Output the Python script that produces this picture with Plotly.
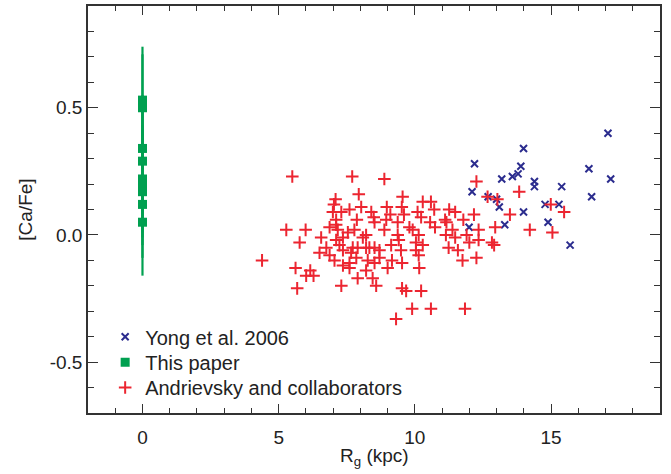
import plotly.graph_objects as go

# ---------------- data ----------------
# This paper (x = 0)
this_rg = [0, 0, 0, 0, 0, 0, 0, 0, 0]
this_cafe = [0.53, 0.50, 0.34, 0.29, 0.22, 0.20, 0.17, 0.12, 0.05]
this_err = [0.21, 0.21, 0.21, 0.21, 0.21, 0.21, 0.21, 0.21, 0.21]

# Yong et al. 2006
yong_rg = [17.09, 13.99, 12.19, 13.89, 16.39, 13.58, 13.79, 13.19, 14.39, 17.19,
           14.39, 15.39, 12.10, 12.69, 13.00, 16.49, 13.10, 14.78, 15.29, 13.99,
           14.89, 13.30, 11.99, 15.70]
yong_cafe = [0.40, 0.34, 0.28, 0.27, 0.26, 0.23, 0.24, 0.22, 0.21, 0.22,
             0.19, 0.19, 0.17, 0.15, 0.14, 0.15, 0.11, 0.12, 0.12, 0.09,
             0.05, 0.04, 0.03, -0.04]

# Andrievsky and collaborators
andr_rg = [5.50, 7.70, 7.94, 7.09, 7.03, 8.03, 7.60, 6.99, 7.30, 8.40,
           7.11, 7.87, 7.11, 6.87, 5.28, 5.99, 7.17, 7.78, 7.54, 8.21,
           6.56, 7.36, 8.09, 7.11, 5.77, 6.75, 7.23, 7.72, 7.90, 6.50,
           7.36, 7.66, 8.21, 8.52, 6.87, 7.85, 7.05, 8.27, 4.39, 7.60,
           8.52, 7.36, 5.62, 8.21, 6.16, 7.60, 6.01, 6.28, 7.90, 8.45,
           7.30, 5.68, 8.58,
           8.88, 12.26, 9.55, 10.29, 10.59, 8.97, 9.52, 10.71, 11.26, 11.48,
           10.10, 9.10, 9.60, 12.17, 8.49, 10.23, 8.95, 11.11, 9.37, 10.56,
           11.16, 11.78, 8.52, 9.80, 10.74, 12.95, 8.88, 9.92, 11.38, 12.34,
           9.37, 10.14, 11.14, 11.48, 11.90, 12.34, 9.41, 10.04, 12.00, 12.83,
           9.13, 10.29, 12.91, 8.33, 10.04, 11.24, 11.58, 8.70, 9.49, 10.14,
           8.70, 11.75, 12.26, 9.16, 9.53, 9.00, 10.16, 9.53, 9.68, 10.23,
           9.90, 10.59, 11.84, 9.31,
           13.83, 14.99, 15.48, 14.22, 15.05, 12.67, 13.03, 13.49]
andr_cafe = [0.23, 0.23, 0.16, 0.14, 0.12, 0.11, 0.10, 0.09, 0.09, 0.09,
             0.06, 0.06, 0.04, 0.03, 0.02, 0.02, 0.02, 0.02, 0.01, 0.00,
             -0.01, -0.01, -0.01, -0.02, -0.03, -0.05, -0.04, -0.05, -0.05, -0.07,
             -0.06, -0.07, -0.05, -0.05, -0.08, -0.09, -0.10, -0.10, -0.10, -0.11,
             -0.11, -0.12, -0.13, -0.14, -0.14, -0.13, -0.16, -0.16, -0.17, -0.17,
             -0.20, -0.21, -0.20,
             0.22, 0.21, 0.15, 0.13, 0.13, 0.11, 0.11, 0.10, 0.10, 0.09,
             0.09, 0.08, 0.08, 0.08, 0.07, 0.07, 0.06, 0.06, 0.05, 0.05,
             0.05, 0.06, 0.05, 0.03, 0.03, 0.03, 0.02, 0.02, 0.02, 0.02,
             0.00, 0.00, 0.00, -0.01, 0.00, -0.02, -0.02, -0.03, -0.03, -0.03,
             -0.04, -0.04, -0.04, -0.05, -0.06, -0.05, -0.06, -0.06, -0.06, -0.08,
             -0.09, -0.10, -0.09, -0.10, -0.11, -0.13, -0.13, -0.21, -0.22, -0.22,
             -0.29, -0.29, -0.29, -0.33,
             0.17, 0.12, 0.09, 0.02, 0.01, 0.15, 0.14, 0.08]

x_tickvals = [0, 5, 10, 15]
x_ticktext = ["0", "5", "10", "15"]
y_tickvals = [-0.5, 0.0, 0.5]
y_ticktext = ["-0.5", "0.0", "0.5"]

# ---------------- styles ----------------
FONT = "Liberation Sans, Arial, Helvetica, sans-serif"
TXT = "#222222"
BLUE = "#2B2C8E"
GREEN = "#00A050"
RED = "#EC2530"
AXC = "#333333"

fig = go.Figure()

fig.add_trace(go.Scatter(
    x=yong_rg, y=yong_cafe, mode="markers", name="Yong et al. 2006", legend="legend",
    marker=dict(symbol="x-thin", size=7, line=dict(color=BLUE, width=2), color=BLUE),
))
fig.add_trace(go.Scatter(
    x=this_rg, y=this_cafe, mode="markers", name="This paper", legend="legend2",
    marker=dict(symbol="square", size=9, color=GREEN, line=dict(width=0)),
    error_y=dict(type="data", array=this_err, visible=True, color=GREEN,
                 thickness=2.2, width=0),
))
fig.add_trace(go.Scatter(
    x=andr_rg, y=andr_cafe, mode="markers", name="Andrievsky and collaborators", legend="legend3",
    marker=dict(symbol="cross-thin", size=9, line=dict(color=RED, width=2), color=RED),
))

axis_common = dict(
    showline=True, linecolor=AXC, linewidth=1.5, mirror="ticks",
    ticks="inside", tickcolor=AXC, tickwidth=1.3,
    showgrid=False, zeroline=False, automargin=False,
    tickfont=dict(family=FONT, size=19, color=TXT),
)

fig.update_xaxes(
    range=[-2, 19], tickvals=x_tickvals, ticktext=x_ticktext, ticklen=9,
    ticklabelstandoff=6,
    minor=dict(dtick=1, tick0=0, ticks="inside", ticklen=5, tickcolor=AXC, tickwidth=1.1, showgrid=False),
    **axis_common,
)
fig.update_yaxes(
    range=[-0.7, 0.9], tickvals=y_tickvals, ticktext=y_ticktext, ticklen=10,
    minor=dict(dtick=0.1, tick0=0, ticks="inside", ticklen=6, tickcolor=AXC, tickwidth=1.1, showgrid=False),
    title=dict(text="[Ca/Fe]", font=dict(family=FONT, size=19, color=TXT), standoff=12),
    **axis_common,
)

# x-axis title placed just below the tick labels
fig.add_annotation(
    text="R<sub>g</sub> (kpc)", xref="paper", yref="paper", x=0.5, y=-0.074,
    xanchor="center", yanchor="top", showarrow=False,
    font=dict(family=FONT, size=19, color=TXT),
)

leg_common = dict(
    x=0.03, xanchor="left", yanchor="middle",
    bgcolor="rgba(0,0,0,0)", borderwidth=0,
    font=dict(family=FONT, size=20, color=TXT),
    itemsizing="trace",
)

fig.update_layout(
    width=671, height=474,
    margin=dict(l=88, r=11, t=6, b=61, autoexpand=False),
    paper_bgcolor="white", plot_bgcolor="white",
    showlegend=True,
    legend=dict(y=0.1875, **leg_common),
    legend2=dict(y=0.125, **leg_common),
    legend3=dict(y=0.0625, **leg_common),
    font=dict(family=FONT, color=TXT),
)

fig.write_html(
    "out.html",
    config={"displayModeBar": False},
    post_script="document.body.style.margin='0px';document.body.style.overflow='hidden';",
)
